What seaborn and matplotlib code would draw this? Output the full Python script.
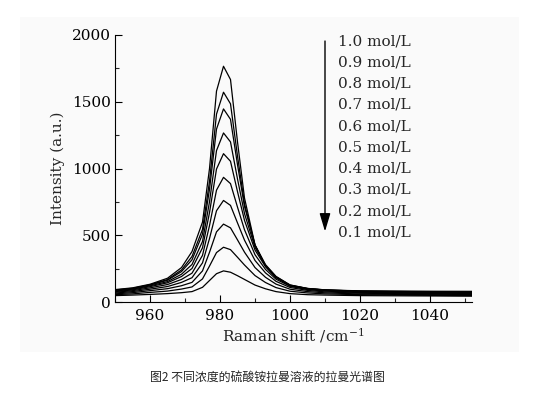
import numpy as np
import pandas as pd
import matplotlib
matplotlib.use('Agg')
import matplotlib.pyplot as plt
import matplotlib.patches as mpatches
import seaborn as sns

# Raman shift sample points (cm^-1)
shift = [950, 955, 960, 965, 969, 972, 975, 977, 979, 981, 983,
         985, 987, 990, 993, 996, 1000, 1005, 1010, 1020, 1035, 1052]

# Intensity curves, one per concentration
c10 = [95, 108, 135, 180, 260, 380, 600, 1000, 1580, 1766, 1667,
       1200, 780, 430, 270, 185, 122, 100, 92, 86, 83, 82]
c09 = [92, 105, 131, 170, 242, 343, 545, 905, 1408, 1572, 1485,
       1094, 737, 426, 275, 189, 126, 103, 93, 84, 81, 78]
c08 = [89, 102, 129, 165, 230, 318, 510, 845, 1296, 1447, 1369,
       1030, 717, 429, 282, 194, 130, 104, 93, 82, 78, 74]
c07 = [84, 98, 123, 155, 210, 283, 455, 752, 1135, 1267, 1200,
       923, 664, 411, 275, 191, 129, 103, 91, 80, 75, 70]
c06 = [80, 93, 117, 146, 193, 253, 408, 671, 997, 1112, 1055,
       828, 613, 391, 266, 185, 126, 100, 88, 76, 71, 66]
c05 = [75, 87, 108, 133, 171, 218, 351, 574, 839, 935, 888,
       712, 543, 356, 246, 173, 120, 95, 84, 72, 67, 62]
c04 = [69, 80, 98, 118, 149, 184, 295, 477, 685, 762, 725,
       594, 465, 313, 220, 157, 111, 89, 78, 68, 63, 58]
c03 = [63, 72, 87, 102, 124, 149, 235, 374, 527, 585, 557,
       467, 375, 260, 187, 136, 98, 80, 71, 62, 58, 54]
c02 = [57, 63, 74, 84, 99, 115, 175, 271, 372, 412, 394,
       337, 279, 200, 148, 110, 83, 70, 63, 57, 53, 50]
c01 = [50, 54, 59, 65, 72, 80, 112, 163, 214, 235, 225,
       199, 171, 129, 101, 80, 65, 57, 54, 50, 48, 46]

labels = ['1.0 mol/L', '0.9 mol/L', '0.8 mol/L', '0.7 mol/L', '0.6 mol/L',
          '0.5 mol/L', '0.4 mol/L', '0.3 mol/L', '0.2 mol/L', '0.1 mol/L']
curves = [c10, c09, c08, c07, c06, c05, c04, c03, c02, c01]

caption = '图2 不同浓度的硫酸铵拉曼溶液的拉曼光谱图'

rows = []
for lab, vals in zip(labels, curves):
    for x, y in zip(shift, vals):
        rows.append({'shift': x, 'intensity': y, 'conc': lab})
df = pd.DataFrame(rows)

sns.set_style('ticks')
plt.rcParams['font.family'] = ['DejaVu Serif']
plt.rcParams['mathtext.fontset'] = 'dejavuserif'

fig = plt.figure(figsize=(5.46, 3.96), dpi=100)
fig.patch.set_facecolor('white')
# light grey panel behind the chart
panel = mpatches.Rectangle((20 / 546, 44 / 396), 499 / 546, 335 / 396,
                           transform=fig.transFigure, facecolor='#fafafa',
                           edgecolor='none', zorder=-10)
fig.add_artist(panel)

ax = fig.add_axes([115 / 546, 93.7 / 396, 357 / 546, 267.3 / 396])
ax.set_facecolor('none')
ax.set_zorder(5)

sns.lineplot(data=df, x='shift', y='intensity', hue='conc', hue_order=labels,
             palette=['black'] * len(labels), legend=False, errorbar=None,
             linewidth=0.9, ax=ax)

fs = 11
ax.set_xlim(950, 1052)
ax.set_ylim(0, 2000)
ax.set_xticks([960, 980, 1000, 1020, 1040])
ax.set_yticks([0, 500, 1000, 1500, 2000])
ax.set_xticks(np.arange(950, 1052, 10), minor=True)
ax.set_yticks(np.arange(250, 2000, 500), minor=True)
ax.tick_params(which='major', direction='in', length=5, width=0.8,
               labelsize=fs, colors='black')
ax.tick_params(which='minor', direction='in', length=3, width=0.8)
ax.tick_params(axis='x', pad=5)
ax.tick_params(axis='y', pad=3)
ax.spines['top'].set_visible(False)
ax.spines['right'].set_visible(False)
for s in ['left', 'bottom']:
    ax.spines[s].set_linewidth(0.8)
    ax.spines[s].set_color('black')

ax.set_xlabel(r'Raman shift /cm$^{-1}$', fontsize=fs, labelpad=2)
ax.set_ylabel('Intensity (a.u.)', fontsize=fs, labelpad=5)

# concentration labels and arrow
for k, lab in enumerate(labels):
    ax.text(1013.7, 1955 - 159 * k, lab, fontsize=fs, va='center', ha='left')
ax.annotate('', xy=(1010, 530), xytext=(1010, 1955),
            arrowprops=dict(arrowstyle='-|>,head_length=1.0,head_width=0.3',
                            mutation_scale=11, color='black', lw=1.0,
                            shrinkA=0, shrinkB=0))

fig.text(267 / 546, 1 - 377 / 396, caption, ha='center', va='center',
         fontsize=8.6, family=['Noto Sans CJK SC', 'DejaVu Sans'])

fig.savefig('out.png', dpi=100)
